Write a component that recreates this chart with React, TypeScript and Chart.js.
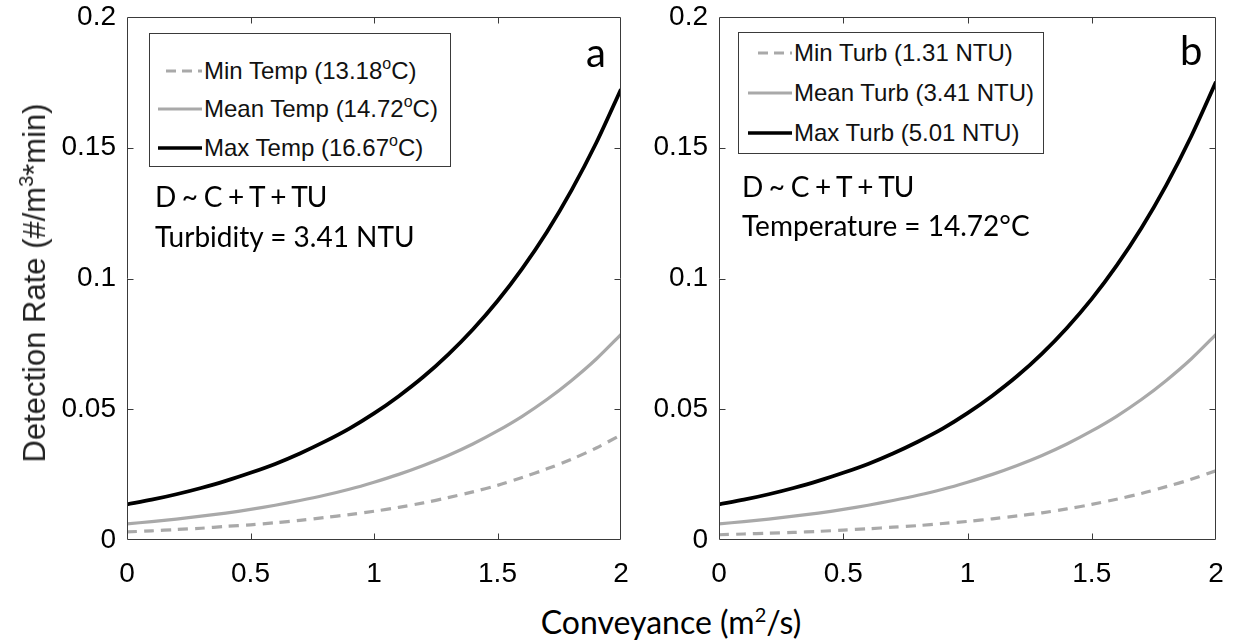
import React, { useEffect, useRef } from "react";
import { Chart, registerables } from "chart.js";

Chart.register(...registerables);

// ---------- data ----------
const conveyance = [0, 0.1, 0.2, 0.3, 0.4, 0.5, 0.6, 0.7, 0.8, 0.9, 1.0, 1.1, 1.2, 1.3, 1.4, 1.5, 1.6, 1.7, 1.8, 1.9, 2.0];

// panel a: temperature varies, turbidity = 3.41 NTU
const minTempRate = [0.0031, 0.0035, 0.004, 0.0045, 0.0052, 0.0058, 0.0066, 0.0075, 0.0086, 0.0097, 0.011, 0.0125, 0.0142, 0.0162, 0.0184, 0.0209, 0.0239, 0.0272, 0.0309, 0.0352, 0.0402];
const meanTempRate = [0.0062, 0.007, 0.008, 0.0091, 0.0103, 0.0117, 0.0133, 0.0151, 0.0171, 0.0194, 0.0221, 0.0251, 0.0285, 0.0323, 0.0367, 0.0417, 0.0473, 0.0537, 0.061, 0.0692, 0.0786];
const maxTempRate = [0.0136, 0.0154, 0.0175, 0.0199, 0.0226, 0.0257, 0.0291, 0.0331, 0.0376, 0.0426, 0.0484, 0.055, 0.0624, 0.0709, 0.0805, 0.0914, 0.1038, 0.1178, 0.1338, 0.1519, 0.1724];

// panel b: turbidity varies, temperature = 14.72 °C
const minTurbRate = [0.002, 0.0023, 0.0026, 0.0029, 0.0033, 0.0038, 0.0043, 0.0049, 0.0055, 0.0063, 0.0071, 0.0081, 0.0092, 0.0104, 0.0119, 0.0136, 0.0156, 0.0178, 0.0204, 0.0232, 0.0265];
const meanTurbRate = [0.0062, 0.007, 0.008, 0.0091, 0.0103, 0.0117, 0.0133, 0.0151, 0.0171, 0.0194, 0.0221, 0.0251, 0.0285, 0.0323, 0.0367, 0.0417, 0.0473, 0.0537, 0.061, 0.0692, 0.0786];
const maxTurbRate = [0.0136, 0.0154, 0.0175, 0.0199, 0.0226, 0.0257, 0.0291, 0.0331, 0.0376, 0.0426, 0.0485, 0.0552, 0.0627, 0.0713, 0.0811, 0.0922, 0.1049, 0.1193, 0.1357, 0.1543, 0.1752];

const tempLegend = ["Min Temp (13.18", "Mean Temp (14.72", "Max Temp (16.67"];
const turbLegend = ["Min Turb (1.31 NTU)", "Mean Turb (3.41 NTU)", "Max Turb (5.01 NTU)"];

const xTickLabels = ["0", "0.5", "1", "1.5", "2"];
const yTickLabels = ["0", "0.05", "0.1", "0.15", "0.2"];
const xMin = 0;
const xMax = 2;
const xStep = 0.5;
const yMin = 0;
const yMax = 0.2;
const yStep = 0.05;

// ---------- styles ----------
const BLACK = "#000000";
const GRAY = "#a9a9a9";
const AXIS = "#3a3a3a";
const TICK_FONT = "'Liberation Sans', Arial, sans-serif";
const TEXT_FONT = "Lato, 'Open Sans', sans-serif";

if (typeof document !== "undefined") {
  document.body.style.margin = "0";
}

const framePlugin = {
  id: "matlabFrame",
  afterDatasetsDraw(chart: any) {
    const { ctx, chartArea: a, scales } = chart;
    const L = Math.round(a.left) + 0.5;
    const R = Math.round(a.right) - 0.5;
    const T = Math.round(a.top) + 0.5;
    const B = Math.round(a.bottom) - 0.5;
    ctx.save();
    ctx.strokeStyle = AXIS;
    ctx.lineWidth = 1;
    ctx.beginPath();
    ctx.rect(L, T, R - L, B - T);
    const len = 6;
    const xs = scales.x;
    xs.ticks.forEach((t: any) => {
      if (t.value <= xs.min || t.value >= xs.max) return;
      const px = Math.round(xs.getPixelForValue(t.value)) + 0.5;
      ctx.moveTo(px, B);
      ctx.lineTo(px, B - len);
      ctx.moveTo(px, T);
      ctx.lineTo(px, T + len);
    });
    const ys = scales.y;
    ys.ticks.forEach((t: any) => {
      if (t.value <= ys.min || t.value >= ys.max) return;
      const py = Math.round(ys.getPixelForValue(t.value)) + 0.5;
      ctx.moveTo(L, py);
      ctx.lineTo(L + len, py);
      ctx.moveTo(R, py);
      ctx.lineTo(R - len, py);
    });
    ctx.stroke();
    ctx.restore();
  },
};

function makeSeries(values: number[]) {
  return conveyance.map((x, i) => ({ x, y: values[i] }));
}

type PanelProps = {
  left: number;
  width: number;
  yWidth: number;
  padRight: number;
  minVals: number[];
  meanVals: number[];
  maxVals: number[];
};

function Panel({ left, width, yWidth, padRight, minVals, meanVals, maxVals }: PanelProps) {
  const ref = useRef<HTMLCanvasElement | null>(null);
  useEffect(() => {
    if (!ref.current) return;
    const chart = new Chart(ref.current, {
      type: "line",
      data: {
        datasets: [
          {
            data: makeSeries(minVals),
            borderColor: GRAY,
            borderWidth: 3.2,
            borderDash: [10, 7],
            pointRadius: 0,
            tension: 0.3,
          },
          {
            data: makeSeries(meanVals),
            borderColor: GRAY,
            borderWidth: 3.2,
            pointRadius: 0,
            tension: 0.3,
          },
          {
            data: makeSeries(maxVals),
            borderColor: BLACK,
            borderWidth: 3.8,
            pointRadius: 0,
            tension: 0.3,
          },
        ],
      },
      options: {
        responsive: false,
        animation: false,
        devicePixelRatio: 1,
        layout: { padding: { top: 17, right: padRight, left: 0, bottom: 0 } },
        plugins: { legend: { display: false }, tooltip: { enabled: false } },
        scales: {
          x: {
            type: "linear",
            min: xMin,
            max: xMax,
            ticks: {
              stepSize: xStep,
              color: "#000",
              padding: 17,
              font: { family: TICK_FONT, size: 28 },
              maxRotation: 0,
              callback: (_v: any, i: number) => xTickLabels[i],
            },
            grid: { display: false, drawTicks: false },
            border: { display: false },
            afterFit: (s: any) => {
              s.height = 60;
              s.paddingLeft = 0;
              s.paddingRight = 0;
            },
          },
          y: {
            type: "linear",
            min: yMin,
            max: yMax,
            ticks: {
              stepSize: yStep,
              color: "#000",
              padding: 11,
              font: { family: TICK_FONT, size: 28 },
              callback: (_v: any, i: number) => yTickLabels[i],
            },
            grid: { display: false, drawTicks: false },
            border: { display: false },
            afterFit: (s: any) => {
              s.width = yWidth;
              s.paddingTop = 0;
              s.paddingBottom = 0;
            },
          },
        },
      },
      plugins: [framePlugin],
    } as any);
    return () => chart.destroy();
  }, []);
  return (
    <canvas
      ref={ref}
      width={width}
      height={600}
      style={{ position: "absolute", left, top: 0, width, height: 600 }}
    />
  );
}

function LegendLine({ kind, dashStart }: { kind: "dash" | "mean" | "max"; dashStart: number }) {
  const color = kind === "max" ? BLACK : GRAY;
  return (
    <svg width={44} height={10} style={{ display: "block" }}>
      {kind === "dash" ? (
        <line x1={dashStart} y1={5} x2={44} y2={5} stroke={color} strokeWidth={3} strokeDasharray="10 6" />
      ) : (
        <line x1={0} y1={5} x2={44} y2={5} stroke={color} strokeWidth={kind === "max" ? 3.5 : 3} />
      )}
    </svg>
  );
}

function Legend({
  left,
  top,
  width,
  height,
  rows,
  rowTops,
  textLeft,
  lineLeft,
  dashStart,
  sup,
}: {
  left: number;
  top: number;
  width: number;
  height: number;
  rows: string[];
  rowTops: number[];
  textLeft: number;
  lineLeft: number;
  dashStart: number;
  sup: boolean;
}) {
  const kinds: ("dash" | "mean" | "max")[] = ["dash", "mean", "max"];
  return (
    <div
      style={{
        position: "absolute",
        left,
        top,
        width,
        height,
        border: `1px solid ${AXIS}`,
        background: "#fff",
        boxSizing: "border-box",
      }}
    >
      {rows.map((r, i) => (
        <div key={i} style={{ position: "absolute", left: 0, top: rowTops[i], height: 0 }}>
          <div style={{ position: "absolute", left: lineLeft, top: -5 }}>
            <LegendLine kind={kinds[i]} dashStart={dashStart} />
          </div>
          <div
            style={{
              position: "absolute",
              left: textLeft,
              top: -15,
              lineHeight: "30px",
              fontFamily: TICK_FONT,
              fontSize: 24,
              whiteSpace: "nowrap",
              color: "#111",
            }}
          >
            {r}
            {sup ? (
              <>
                <sup style={{ fontSize: 16, verticalAlign: "0.6em", lineHeight: 0 }}>o</sup>C)
              </>
            ) : null}
          </div>
        </div>
      ))}
    </div>
  );
}

function Label({
  left,
  cy,
  size,
  children,
  spacing = 0,
  family = TEXT_FONT,
}: {
  left: number;
  cy: number;
  size: number;
  children: React.ReactNode;
  spacing?: number;
  family?: string;
}) {
  return (
    <div
      style={{
        position: "absolute",
        left,
        top: cy - size * 0.6,
        fontFamily: family,
        fontSize: size,
        lineHeight: `${size * 1.2}px`,
        letterSpacing: spacing,
        whiteSpace: "nowrap",
        color: "#000",
      }}
    >
      {children}
    </div>
  );
}

export default function App() {
  return (
    <div style={{ position: "relative", width: 1234, height: 643, background: "#fff", overflow: "hidden" }}>
      <Panel left={0} width={640} yWidth={127} padRight={19} minVals={minTempRate} meanVals={meanTempRate} maxVals={maxTempRate} />
      <Panel left={640} width={594} yWidth={79} padRight={18} minVals={minTurbRate} meanVals={meanTurbRate} maxVals={maxTurbRate} />

      <Legend
        left={149}
        top={33}
        width={302}
        height={134}
        rows={tempLegend}
        rowTops={[37, 75, 114]}
        lineLeft={8}
        dashStart={8}
        textLeft={54}
        sup={true}
      />
      <Legend
        left={738}
        top={32}
        width={306}
        height={122}
        rows={turbLegend}
        rowTops={[20, 60, 100]}
        lineLeft={9}
        dashStart={10}
        textLeft={55}
        sup={false}
      />

      <Label left={586} cy={52} size={40}>a</Label>
      <Label left={1180} cy={50} size={40}>b</Label>

      <Label left={155} cy={197} size={28} spacing={-0.8}>D ~ C + T + TU</Label>
      <Label left={155} cy={237} size={28}>Turbidity = 3.41 NTU</Label>
      <Label left={742} cy={187} size={28} spacing={-0.8}>D ~ C + T + TU</Label>
      <Label left={742} cy={226} size={28}>Temperature = 14.72°C</Label>

      <div
        style={{
          position: "absolute",
          left: 671,
          top: 622,
          transform: "translate(-50%, -50%)",
          fontFamily: TEXT_FONT,
          fontSize: 32,
          whiteSpace: "nowrap",
          lineHeight: "38px",
        }}
      >
        Conveyance (m<sup style={{ fontSize: 20, verticalAlign: "0.6em", lineHeight: 0 }}>2</sup>/s)
      </div>

      <div
        style={{
          position: "absolute",
          left: 35,
          top: 283,
          transform: "translate(-50%, -50%) rotate(-90deg)",
          fontFamily: TICK_FONT,
          fontSize: 31,
          whiteSpace: "nowrap",
          lineHeight: "34px",
          color: "#222",
        }}
      >
        Detection Rate (#/m<sup style={{ fontSize: 20, verticalAlign: "0.6em", lineHeight: 0 }}>3</sup>*min)
      </div>
    </div>
  );
}
